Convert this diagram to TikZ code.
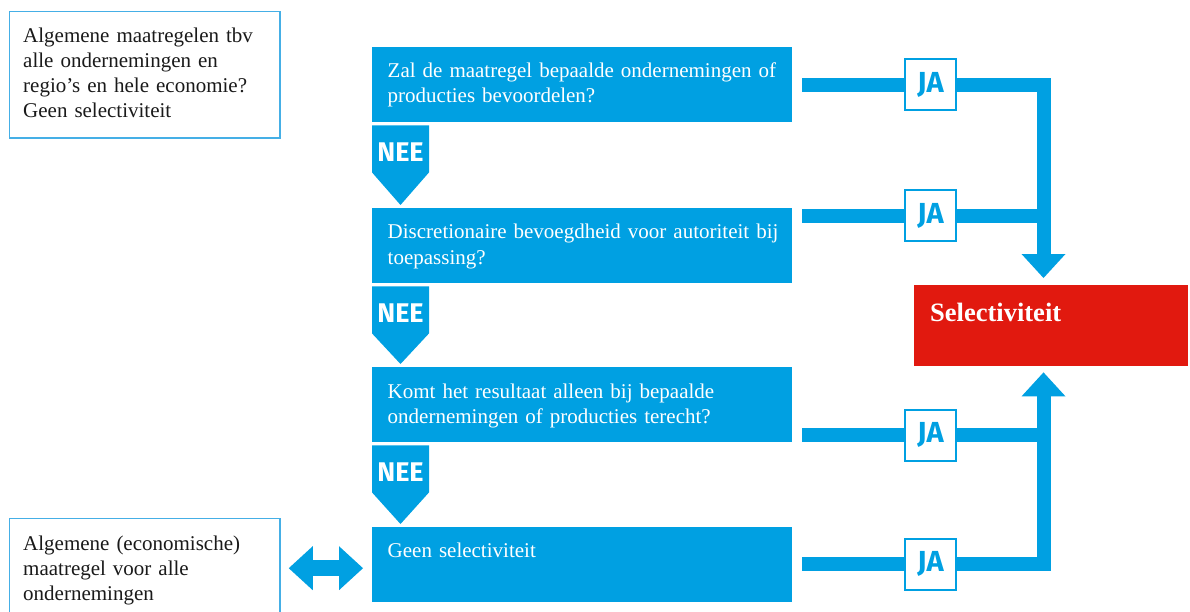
\documentclass[tikz,border=0pt]{standalone}
\usepackage{fontspec}
\setmainfont{Liberation Serif}
\newfontfamily\labfont{Fira Sans}
\usetikzlibrary{arrows.meta,calc}
\definecolor{rblue}{HTML}{00A0E2}
\definecolor{rred}{HTML}{E1190F}
\definecolor{lblue}{HTML}{45AFE6}
\definecolor{ink}{HTML}{1A1A1A}
\pgfdeclarelayer{bg}
\pgfsetlayers{bg,main}
\begin{document}
\begin{tikzpicture}[x=1pt,y=-1pt,
  qbox/.style={fill=rblue, minimum width=420pt, minimum height=75pt, inner sep=0pt, anchor=north west},
  qtext/.style={anchor=base west, inner sep=0pt, text=white, align=left, text width=405pt,
    font=\fontsize{21}{25}\selectfont},
  gbox/.style={draw=lblue, line width=1.5pt, minimum width=270.5pt, inner sep=0pt, anchor=north west},
  gtext/.style={anchor=base west, inner sep=0pt, text=ink, align=left, text width=255pt,
    font=\fontsize{21}{25}\selectfont},
  neetext/.style={inner sep=0pt, text=white, font=\labfont\bfseries\fontsize{27}{30}\selectfont},
  jabox/.style={draw=rblue, line width=2pt, fill=white, minimum size=51pt, inner sep=0pt,
    text=rblue, font=\labfont\bfseries\fontsize{29}{32}\selectfont},
  flow/.style={draw=rblue, line width=14pt},
  tip/.style={-{Triangle[width=44pt,length=24pt,line width=0pt]}},
]
\useasboundingbox (0,0) rectangle (1190,612);
\clip (0,0) rectangle (1190,612);
\begin{pgfonlayer}{bg}
\fill[white] (0,0) rectangle (1190,612);
\end{pgfonlayer}

% left boxes
\node[gbox, minimum height=126.5pt] (g1) at (8.75,10.75) {};
\node[gtext] (g1t) at (23,42.3) {Algemene maatregelen tbv\\alle ondernemingen en\\regio’s en hele economie?\\Geen selectiviteit};
\node[gbox, minimum height=130pt] (g2) at (8.75,517.75) {};
\node[gtext] (g2t) at (23,550) {Algemene (economische)\\maatregel voor alle\\ondernemingen};

% question boxes
\node[qbox] (q1) at (372,47) {};
\node[qbox] (q2) at (372,208) {};
\node[qbox] (q3) at (372,367) {};
\node[qbox] (q4) at (372,527) {};
\node[qtext] (q1t) at ($(q1.north west)+(15.5,31)$) {Zal de maatregel bepaalde ondernemingen of\\producties bevoordelen?};
\node[qtext] (q2t) at ($(q2.north west)+(15.5,31)$) {Discretionaire bevoegdheid voor autoriteit bij\\toepassing?};
\node[qtext] (q3t) at ($(q3.north west)+(15.5,31)$) {Komt het resultaat alleen bij bepaalde\\ondernemingen of producties terecht?};
\node[qtext] (q4t) at ($(q4.north west)+(15.5,30)$) {Geen selectiviteit};

% NEE arrows
\fill[rblue] ($(q1.south west)+(0,3)$) -- ++(57,0) -- ++(0,47) -- ($(q2.north west)+(28.5,-3)$) -- ($(q1.south west)+(0,50)$) -- cycle;
\node[neetext] (n1) at ($(q1.south west)+(28.5,30)$) {NEE};
\fill[rblue] ($(q2.south west)+(0,3)$) -- ++(57,0) -- ++(0,47) -- ($(q3.north west)+(28.5,-3)$) -- ($(q2.south west)+(0,50)$) -- cycle;
\node[neetext] (n2) at ($(q2.south west)+(28.5,30)$) {NEE};
\fill[rblue] ($(q3.south west)+(0,3)$) -- ++(57,0) -- ++(0,47) -- ($(q4.north west)+(28.5,-3)$) -- ($(q3.south west)+(0,50)$) -- cycle;
\node[neetext] (n3) at ($(q3.south west)+(28.5,30)$) {NEE};

% Selectiviteit
\node[fill=rred, minimum width=274pt, minimum height=81pt, inner sep=0pt, anchor=north west] (sel) at (914,285) {};
\node[anchor=base west, inner sep=0pt, text=white, font=\bfseries\fontsize{26.5}{30}\selectfont] (selt) at (930,321) {Selectiviteit};

% JA boxes
\node[jabox] (ja1) at (930.5,85) {JA};
\node[jabox] (ja2) at (930.5,216) {JA};
\node[jabox] (ja3) at (930.5,435) {JA};
\node[jabox] (ja4) at (930.5,564) {JA};
\coordinate (col) at (1043.5,0);

\begin{pgfonlayer}{bg}
\draw[flow] ($(q1.east |- ja1.center)+(10,0)$) -- (ja1.west);
\draw[flow] ($(q2.east |- ja2.center)+(10,0)$) -- (ja2.west);
\draw[flow] ($(q3.east |- ja3.center)+(10,0)$) -- (ja3.west);
\draw[flow] ($(q4.east |- ja4.center)+(10,0)$) -- (ja4.west);
\draw[flow, tip] (ja1.east) -| ($(sel.north -| col)+(0,-7)$);
\draw[flow] (ja2.east) -- (ja2.east -| col);
\draw[flow] (ja3.east) -- (ja3.east -| col);
\draw[flow, tip] (ja4.east) -| ($(sel.south -| col)+(0,6)$);
\end{pgfonlayer}

% double arrow
\draw[draw=rblue, line width=16pt, {Triangle[width=44pt,length=24pt,line width=0pt]}-{Triangle[width=44pt,length=24pt,line width=0pt]}]
  ($(g2.east |- q4.center)+(8,3.5)$) -- ($(q4.west)+(-9,3.5)$);
\end{tikzpicture}
\end{document}
